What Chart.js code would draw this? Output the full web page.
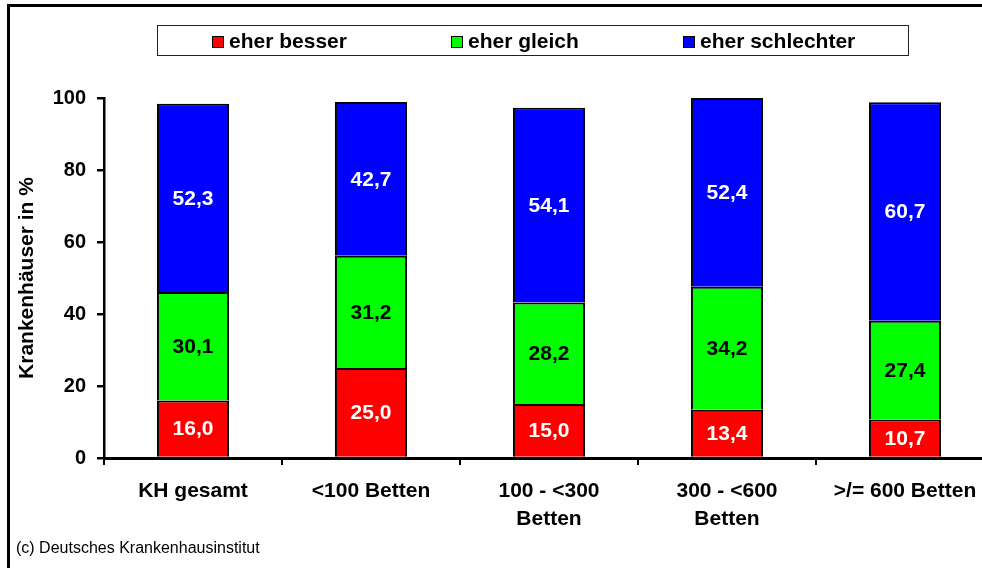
<!DOCTYPE html>
<html lang="de">
<head>
<meta charset="utf-8">
<title>Krankenhäuser in %</title>
<script src="https://cdn.jsdelivr.net/npm/chart.js@4.4.1/dist/chart.umd.min.js"></script>
<style>
  html, body { margin: 0; padding: 0; background: #fff; overflow: hidden; }
  body { width: 982px; height: 568px; position: relative; }
  #wrap { position: absolute; left: 0; top: 0; width: 994px; height: 568px; }
  #frame { position: absolute; left: 7px; top: 4px; right: -10px; bottom: -10px;
           border-top: 3px solid #000; border-left: 3px solid #000; pointer-events: none; }
  #credit { position: absolute; left: 16px; top: 539px; font: 16px "Liberation Sans", Arial, sans-serif; color: #000; }
</style>
</head>
<body>
<div id="wrap"><canvas id="chart"></canvas></div>
<div id="frame"></div>
<div id="credit">(c) Deutsches Krankenhausinstitut</div>
<script>
// Anteil der Krankenhäuser nach Einschätzung, je Bettengrößenklasse
const categories = ['KH gesamt', '<100 Betten', ['100 - <300', 'Betten'], ['300 - <600', 'Betten'], '>/= 600 Betten'];
const seriesNames = ['eher besser', 'eher gleich', 'eher schlechter'];
const besser = [16.0, 25.0, 15.0, 13.4, 10.7];
const gleich = [30.1, 31.2, 28.2, 34.2, 27.4];
const schlechter = [52.3, 42.7, 54.1, 52.4, 60.7];
const yTicks = [0, 20, 40, 60, 80, 100];

const FONT = '"Liberation Sans", Arial, sans-serif';
const fills = ['#ff0000', '#00ff00', '#0000ff'];
const labelColors = ['#ffffff', '#000000', '#ffffff'];

// Zahlen im Balken (Dezimalkomma)
const valueLabels = {
  id: 'valueLabels',
  afterDatasetsDraw(chart) {
    const ctx = chart.ctx;
    ctx.save();
    ctx.font = 'bold 21px ' + FONT;
    ctx.textAlign = 'center';
    ctx.textBaseline = 'middle';
    chart.data.datasets.forEach((ds, i) => {
      const meta = chart.getDatasetMeta(i);
      meta.data.forEach((bar, j) => {
        const p = bar.getProps(['x', 'y', 'base'], true);
        ctx.fillStyle = labelColors[i];
        ctx.fillText(ds.data[j].toFixed(1).replace('.', ','), p.x, (p.y + p.base) / 2 + 1);
      });
    });
    ctx.restore();
  }
};

// Legende im Rahmen oberhalb des Diagramms
const boxLegend = {
  id: 'boxLegend',
  afterDraw(chart) {
    const ctx = chart.ctx;
    ctx.save();
    ctx.strokeStyle = '#222';
    ctx.lineWidth = 1;
    ctx.fillStyle = '#fff';
    ctx.fillRect(157.5, 25.5, 751, 30);
    ctx.strokeRect(157.5, 25.5, 751, 30);
    const swatchX = [212, 451, 683];
    ctx.font = 'bold 21px ' + FONT;
    ctx.textBaseline = 'middle';
    ctx.textAlign = 'left';
    chart.data.datasets.forEach((ds, i) => {
      ctx.fillStyle = ds.backgroundColor;
      ctx.fillRect(swatchX[i], 36, 12, 12);
      ctx.strokeStyle = '#000';
      ctx.strokeRect(swatchX[i] + 0.5, 36.5, 11, 11);
      ctx.fillStyle = '#000';
      ctx.fillText(ds.label, swatchX[i] + 17, 42);
    });
    ctx.restore();
  }
};

new Chart(document.getElementById('chart'), {
  type: 'bar',
  data: {
    labels: categories,
    datasets: [besser, gleich, schlechter].map((values, i) => ({
      label: seriesNames[i],
      data: values,
      backgroundColor: fills[i],
      borderColor: '#000',
      borderWidth: 2,
      borderSkipped: 'start',
      barPercentage: 0.405,
      categoryPercentage: 1
    }))
  },
  options: {
    responsive: true,
    maintainAspectRatio: false,
    animation: false,
    events: [],
    layout: { padding: { top: 98, right: 0, bottom: 0, left: 0 } },
    plugins: { legend: { display: false }, tooltip: { enabled: false } },
    scales: {
      x: {
        stacked: true,
        grid: { offset: true, drawOnChartArea: false, drawTicks: true, tickLength: 7, color: '#000', lineWidth: 2 },
        border: { color: '#000', width: 3 },
        ticks: {
          color: '#000', padding: 12, maxRotation: 0, autoSkip: false,
          font: { family: FONT, size: 21, weight: 'bold', lineHeight: 1.33 }
        },
        afterFit(scale) { scale.height = 110; }
      },
      y: {
        stacked: true,
        min: 0,
        max: 100,
        afterBuildTicks(scale) { scale.ticks = yTicks.map(v => ({ value: v })); },
        grid: { drawOnChartArea: false, drawTicks: true, tickLength: 7, color: '#000', lineWidth: 2.5 },
        border: { color: '#000', width: 2.5 },
        ticks: { color: '#000', padding: 11, font: { family: FONT, size: 20, weight: 'bold' } },
        title: {
          display: true,
          text: 'Krankenhäuser in %',
          color: '#000',
          font: { family: FONT, size: 21, weight: 'bold', lineHeight: 1.2 },
          padding: { top: 15, bottom: 0 }
        },
        afterFit(scale) { scale.width = 104; }
      }
    }
  },
  plugins: [valueLabels, boxLegend]
});
</script>
</body>
</html>
